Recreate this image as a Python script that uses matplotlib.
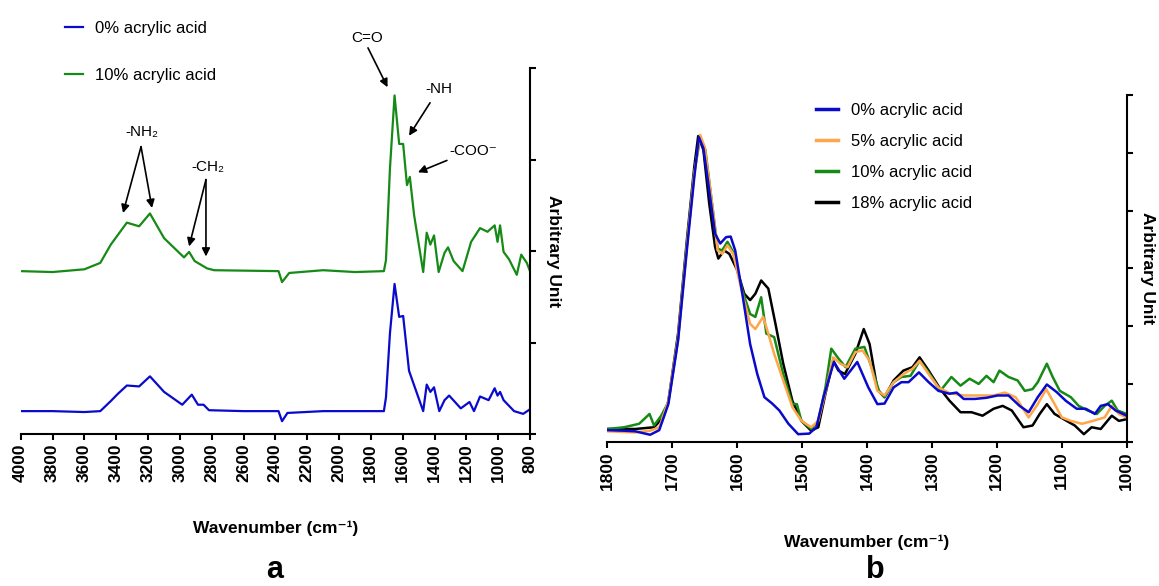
import matplotlib
matplotlib.use("Agg")
import matplotlib.pyplot as plt

plt.rcParams['font.family'] = ['Liberation Sans', 'DejaVu Sans']

# ---------------- Panel a data ----------------
wn_a_blue = [4000, 3800, 3600, 3500, 3434, 3389, 3333, 3256, 3188, 3099, 2985, 2925, 2886, 2851,
             2817, 2600, 2380, 2358, 2324, 2100, 1900, 1718, 1705, 1680, 1651, 1622, 1597, 1560,
             1471, 1449, 1426, 1403, 1370, 1337, 1308, 1235, 1180, 1152, 1114, 1060, 1022, 1004,
             988, 966, 900, 843, 800]
y_a_blue = [0.25, 0.25, 0.24, 0.25, 0.36, 0.44, 0.53, 0.52, 0.63, 0.46, 0.32, 0.43, 0.32, 0.32,
            0.26, 0.25, 0.25, 0.14, 0.23, 0.25, 0.25, 0.25, 0.40, 1.10, 1.64, 1.28, 1.29, 0.69,
            0.25, 0.54, 0.46, 0.51, 0.25, 0.37, 0.42, 0.28, 0.35, 0.25, 0.41, 0.37, 0.50, 0.42,
            0.46, 0.37, 0.25, 0.22, 0.27]

wn_a_green = [4000, 3800, 3600, 3500, 3434, 3333, 3256, 3188, 3099, 2974, 2942, 2907, 2829, 2785,
              2380, 2358, 2313, 2100, 1900, 1718, 1705, 1680, 1651, 1622, 1597, 1573, 1555, 1528,
              1471, 1449, 1426, 1403, 1374, 1337, 1315, 1280, 1224, 1170, 1114, 1067, 1022, 1004,
              988, 966, 932, 883, 855, 820, 800]
y_a_green = [1.78, 1.77, 1.80, 1.87, 2.07, 2.31, 2.27, 2.41, 2.14, 1.93, 1.99, 1.89, 1.81, 1.79,
             1.78, 1.66, 1.76, 1.79, 1.77, 1.78, 1.90, 2.90, 3.70, 3.17, 3.17, 2.72, 2.81, 2.39,
             1.77, 2.20, 2.07, 2.17, 1.77, 1.98, 2.04, 1.89, 1.78, 2.10, 2.25, 2.21, 2.28, 2.10,
             2.28, 1.99, 1.91, 1.74, 1.96, 1.87, 1.78]

labels_a = ["0% acrylic acid", "10% acrylic acid"]
ticks_a = list(range(4000, 799, -200))

# ---------------- Panel b data ----------------
wn_b_0 = [1800, 1774, 1757, 1734, 1720, 1706, 1691, 1677, 1666, 1659, 1652, 1643, 1634, 1626, 1617,
          1610, 1603, 1592, 1580, 1569, 1558, 1546, 1535, 1521, 1506, 1489, 1478, 1467, 1451, 1435,
          1415, 1398, 1384, 1373, 1359, 1347, 1336, 1320, 1305, 1290, 1273, 1262, 1251, 1234, 1216,
          1199, 1182, 1165, 1151, 1137, 1123, 1108, 1094, 1077, 1063, 1049, 1040, 1029, 1017, 1000]
y_b_0 = [0.20, 0.19, 0.18, 0.12, 0.20, 0.65, 1.75, 3.37, 4.58, 5.27, 5.08, 4.35, 3.60, 3.43, 3.54,
         3.55, 3.31, 2.56, 1.69, 1.17, 0.77, 0.66, 0.54, 0.31, 0.13, 0.14, 0.25, 0.77, 1.38, 1.09,
         1.38, 0.94, 0.65, 0.66, 0.94, 1.03, 1.03, 1.20, 1.03, 0.88, 0.83, 0.85, 0.74, 0.74, 0.76,
         0.80, 0.80, 0.62, 0.51, 0.77, 0.99, 0.86, 0.71, 0.57, 0.57, 0.48, 0.62, 0.65, 0.54, 0.45]

wn_b_5 = [1800, 1757, 1734, 1720, 1706, 1691, 1677, 1666, 1657, 1650, 1640, 1630, 1623, 1615, 1606,
          1592, 1580, 1572, 1560, 1552, 1543, 1529, 1515, 1501, 1486, 1475, 1464, 1452, 1441, 1430,
          1418, 1407, 1396, 1384, 1373, 1359, 1344, 1330, 1319, 1305, 1290, 1273, 1251, 1228, 1205,
          1188, 1171, 1151, 1137, 1124, 1111, 1100, 1086, 1069, 1052, 1034, 1023, 1012, 1000]
y_b_5 = [0.18, 0.16, 0.19, 0.25, 0.70, 1.80, 3.43, 4.64, 5.31, 5.10, 4.24, 3.31, 3.25, 3.40, 3.25,
         2.56, 2.04, 1.95, 2.16, 1.87, 1.52, 1.06, 0.60, 0.36, 0.25, 0.36, 0.86, 1.46, 1.35, 1.29,
         1.55, 1.58, 1.40, 0.88, 0.80, 1.03, 1.17, 1.26, 1.40, 1.17, 0.94, 0.84, 0.80, 0.80, 0.80,
         0.85, 0.77, 0.42, 0.65, 0.91, 0.65, 0.42, 0.36, 0.31, 0.36, 0.42, 0.62, 0.48, 0.42]

wn_b_10 = [1800, 1774, 1751, 1735, 1728, 1717, 1706, 1691, 1677, 1666, 1657, 1649, 1640, 1630, 1623,
           1615, 1606, 1592, 1580, 1572, 1563, 1555, 1543, 1529, 1515, 1508, 1501, 1486, 1475, 1464,
           1455, 1444, 1433, 1418, 1404, 1393, 1381, 1373, 1359, 1347, 1333, 1319, 1305, 1287, 1270,
           1256, 1242, 1228, 1216, 1205, 1196, 1182, 1168, 1157, 1145, 1137, 1123, 1114, 1103, 1086,
           1074, 1060, 1046, 1034, 1023, 1014, 1000]
y_b_10 = [0.22, 0.25, 0.31, 0.48, 0.28, 0.45, 0.68, 1.78, 3.45, 4.66, 5.25, 5.05, 4.24, 3.34, 3.31,
          3.46, 3.28, 2.62, 2.21, 2.16, 2.50, 1.87, 1.81, 1.17, 0.65, 0.65, 0.36, 0.22, 0.36, 0.94,
          1.61, 1.44, 1.29, 1.61, 1.64, 1.29, 0.86, 0.77, 1.03, 1.12, 1.14, 1.40, 1.20, 0.88, 1.12,
          0.97, 1.09, 1.00, 1.14, 1.03, 1.23, 1.12, 1.06, 0.88, 0.91, 1.03, 1.35, 1.12, 0.88, 0.77,
          0.62, 0.54, 0.48, 0.62, 0.71, 0.54, 0.48]

wn_b_18 = [1800, 1757, 1728, 1714, 1706, 1691, 1677, 1666, 1660, 1652, 1643, 1634, 1629, 1620, 1612,
           1600, 1589, 1580, 1572, 1563, 1552, 1541, 1529, 1515, 1501, 1486, 1475, 1464, 1452, 1444,
           1434, 1418, 1405, 1396, 1384, 1373, 1359, 1344, 1330, 1319, 1305, 1287, 1273, 1256, 1239,
           1222, 1205, 1191, 1177, 1159, 1145, 1134, 1123, 1111, 1097, 1080, 1066, 1054, 1040, 1023,
           1012, 1000]
y_b_18 = [0.22, 0.22, 0.25, 0.42, 0.70, 1.87, 3.54, 4.76, 5.29, 5.05, 4.12, 3.37, 3.17, 3.31, 3.25,
          2.97, 2.56, 2.45, 2.56, 2.79, 2.65, 2.04, 1.35, 0.71, 0.36, 0.19, 0.25, 0.83, 1.40, 1.23,
          1.17, 1.52, 1.95, 1.69, 0.91, 0.77, 1.06, 1.23, 1.29, 1.46, 1.23, 0.91, 0.71, 0.51, 0.51,
          0.45, 0.57, 0.62, 0.54, 0.25, 0.28, 0.48, 0.65, 0.48, 0.39, 0.28, 0.13, 0.25, 0.22, 0.45,
          0.36, 0.39]

labels_b = ["0% acrylic acid", "5% acrylic acid", "10% acrylic acid", "18% acrylic acid"]
ticks_b = list(range(1800, 999, -100))

BLUE = '#0A0ACD'
GREEN = '#168A16'
ORANGE = '#FFA54A'
BLACK = '#000000'

W, H = 1159, 586
fig = plt.figure(figsize=(W / 100, H / 100), dpi=100)


def style_axes(ax, nyt):
    for s in ['left', 'top']:
        ax.spines[s].set_visible(False)
    for s in ['bottom', 'right']:
        ax.spines[s].set_linewidth(1.5)
    ax.yaxis.tick_right()
    ax.set_yticks(range(nyt + 1))
    ax.tick_params(axis='y', which='both', direction='out', length=4, width=1.5,
                   labelright=False, labelleft=False)
    ax.tick_params(axis='x', direction='out', length=4, width=1.5, pad=3)
    for lab in ax.get_xticklabels():
        lab.set_rotation(90)
        lab.set_fontweight('bold')
        lab.set_fontsize(12.5)
        lab.set_va('top')
        lab.set_ha('center')


# ---------------- Panel a ----------------
axa = fig.add_axes([20.7 / W, (H - 434) / H, 509.3 / W, 366 / H])
axa.set_xlim(4000, 800)
axa.set_ylim(0, 4)
axa.set_xticks(ticks_a)
la1, = axa.plot(wn_a_blue, y_a_blue, color=BLUE, lw=1.6, label=labels_a[0])
la2, = axa.plot(wn_a_green, y_a_green, color=GREEN, lw=1.6, label=labels_a[1])
style_axes(axa, 4)
axa.set_xlabel('Wavenumber (cm⁻¹)', fontsize=12.5, fontweight='bold', va='center')
axa.xaxis.set_label_coords(0.5, (434 - 528) / 366)
axa.yaxis.set_label_position('right')
axa.set_ylabel('Arbitrary Unit', fontsize=12.5, fontweight='bold', rotation=270,
               va='center', ha='center')
axa.yaxis.set_label_coords((553 - 20.7) / 509.3, 0.5)

leg_a = axa.legend(handles=[la1, la2], loc='upper left', bbox_to_anchor=(65 / W, 1 - 21 / H),
                   bbox_transform=fig.transFigure, frameon=False, fontsize=12,
                   handlelength=1.1, handletextpad=0.7, labelspacing=1.9,
                   borderpad=0, borderaxespad=0)

arrow_kw = dict(arrowstyle='-|>', color='black', lw=1.2, mutation_scale=12,
                shrinkA=0, shrinkB=0)
ann_fs = 11
# -NH2
axa.text(3239, 3.30, '-NH₂', ha='center', va='center', fontsize=ann_fs)
axa.annotate('', xy=(3357, 2.415), xytext=(3244, 3.14), arrowprops=arrow_kw)
axa.annotate('', xy=(3175, 2.47), xytext=(3244, 3.14), arrowprops=arrow_kw)
# -CH2
axa.text(2823, 2.92, '-CH₂', ha='center', va='center', fontsize=ann_fs)
axa.annotate('', xy=(2942, 2.05), xytext=(2836, 2.78), arrowprops=arrow_kw)
axa.annotate('', xy=(2836, 1.94), xytext=(2836, 2.78), arrowprops=arrow_kw)
# C=O
axa.text(1824, 4.33, 'C=O', ha='center', va='center', fontsize=ann_fs)
axa.annotate('', xy=(1695, 3.79), xytext=(1818, 4.22), arrowprops=arrow_kw)
# -NH
axa.text(1372, 3.77, '-NH', ha='center', va='center', fontsize=ann_fs)
axa.annotate('', xy=(1560, 3.26), xytext=(1428, 3.62), arrowprops=arrow_kw)
# -COO-
axa.text(1309, 3.09, '-COO⁻', ha='left', va='center', fontsize=ann_fs)
axa.annotate('', xy=(1504, 2.86), xytext=(1322, 2.99), arrowprops=arrow_kw)

# ---------------- Panel b ----------------
axb = fig.add_axes([607.3 / W, (H - 441.7) / H, 519.4 / W, 346.7 / H])
axb.set_xlim(1800, 1000)
axb.set_ylim(0, 6)
axb.set_xticks(ticks_b)
lb4, = axb.plot(wn_b_18, y_b_18, color=BLACK, lw=1.8, label=labels_b[3], zorder=2)
lb3, = axb.plot(wn_b_10, y_b_10, color=GREEN, lw=1.8, label=labels_b[2], zorder=2.1)
lb2, = axb.plot(wn_b_5, y_b_5, color=ORANGE, lw=1.8, label=labels_b[1], zorder=2.2)
lb1, = axb.plot(wn_b_0, y_b_0, color=BLUE, lw=1.8, label=labels_b[0], zorder=2.3)
style_axes(axb, 6)
axb.set_xlabel('Wavenumber (cm⁻¹)', fontsize=12.5, fontweight='bold', va='center')
axb.xaxis.set_label_coords(0.5, (441.7 - 542) / 346.7)
axb.yaxis.set_label_position('right')
axb.set_ylabel('Arbitrary Unit', fontsize=12.5, fontweight='bold', rotation=270,
               va='center', ha='center')
axb.yaxis.set_label_coords((1148 - 607.3) / 519.4, 0.5)

leg_b = axb.legend(handles=[lb1, lb2, lb3, lb4], loc='upper left',
                   bbox_to_anchor=(816 / W, 1 - 103 / H), bbox_transform=fig.transFigure,
                   frameon=False, fontsize=12, handlelength=1.3, handletextpad=0.8,
                   labelspacing=0.95, borderpad=0, borderaxespad=0)
for h in leg_b.get_lines():
    h.set_linewidth(2.5)

fig.text(275 / W, 1 - 570 / H, 'a', fontsize=22, fontweight='bold', ha='center', va='center')
fig.text(875 / W, 1 - 570 / H, 'b', fontsize=22, fontweight='bold', ha='center', va='center')

fig.savefig('out.png', dpi=100)
